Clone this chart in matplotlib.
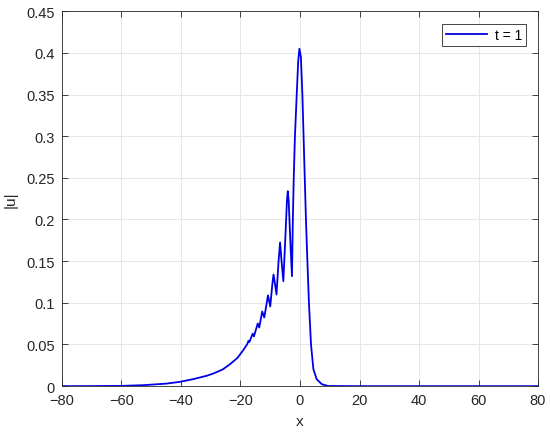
import matplotlib
matplotlib.use("Agg")
import matplotlib.pyplot as plt

plt.rcParams['font.family'] = ['Liberation Sans', 'DejaVu Sans']

# |u| at t = 1
x = [-80, -70, -60, -52.6, -45, -40.3, -35.9, -31.4, -29.1, -26, -23.5, -21, -19.0,
     -17.8, -17.3, -17.0, -15.9, -15.5, -14.2, -13.7, -12.7, -12.0, -10.75, -10.0,
     -9.3, -8.9, -8.5, -7.9, -7.2, -6.7, -6.2, -5.6, -4.9, -4.4, -4.1, -3.8, -3.2,
     -2.7, -2.4, -2.1, -1.7, -1.1, -0.6, -0.2, 0.3, 0.8, 1.2, 1.6, 2.0, 2.46, 3.0,
     3.7, 4.5, 5.6, 7.3, 9.4, 20, 80]
u = [0.0, 0.0001, 0.0003, 0.0012, 0.003, 0.0052, 0.0084, 0.0124, 0.0152, 0.020,
     0.0264, 0.034, 0.0436, 0.050, 0.0544, 0.053, 0.063, 0.0596, 0.0752, 0.0704,
     0.0896, 0.0824, 0.109, 0.0956, 0.122, 0.134, 0.125, 0.110, 0.150, 0.1725,
     0.150, 0.126, 0.180, 0.222, 0.234, 0.222, 0.170, 0.132, 0.200, 0.250, 0.300,
     0.350, 0.390, 0.405, 0.395, 0.350, 0.300, 0.250, 0.200, 0.1525, 0.1005, 0.050,
     0.0204, 0.0084, 0.0024, 0.0002, 0.0, 0.0]

fig = plt.figure(figsize=(5.5, 4.35), dpi=100)
ax = fig.add_axes([0.1127, 0.110, 0.8655, 0.862])
ax.plot(x, u, color='#0000e8', linewidth=1.3, label='t = 1')

ax.set_xlim(-80, 80)
ax.set_ylim(0, 0.45)
ax.set_xticks(range(-80, 81, 20))
ax.set_yticks([0, 0.05, 0.1, 0.15, 0.2, 0.25, 0.3, 0.35, 0.4, 0.45])
ax.set_yticklabels(['0', '0.05', '0.1', '0.15', '0.2', '0.25', '0.3', '0.35', '0.4', '0.45'])
ax.set_xticklabels(['\u221280', '\u221260', '\u221240', '\u221220', '0', '20', '40', '60', '80'])
ax.grid(True, color='#e6e6e6', linewidth=0.7)
ax.set_axisbelow(True)
ax.tick_params(direction='in', top=True, right=True, length=4, labelsize=10.5,
               color='#262626', labelcolor='#262626', width=0.6, pad=5)
for s in ax.spines.values():
    s.set_color('#262626')
    s.set_linewidth(0.6)
ax.set_xlabel('x', fontsize=11, color='#262626', labelpad=5)
ax.set_ylabel('|u|', fontsize=11, color='#262626', labelpad=6)

leg = ax.legend(loc='upper right', fontsize=10, fancybox=False, framealpha=1,
                edgecolor='#262626', handlelength=2.9, handletextpad=0.6,
                borderpad=0.3, bbox_to_anchor=(0.99, 0.985))
leg.get_frame().set_linewidth(0.6)

fig.savefig('out.png', dpi=100)
